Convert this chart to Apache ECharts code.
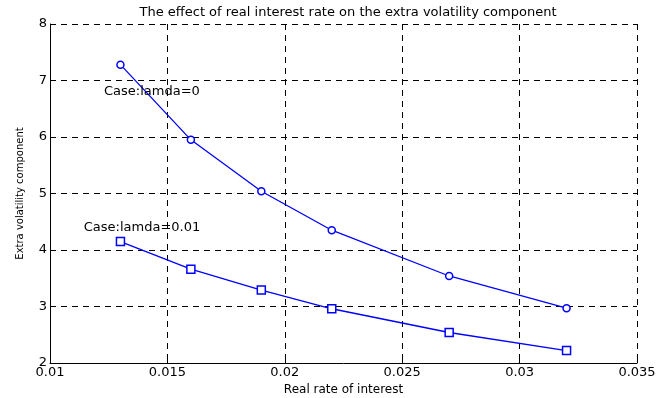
<!DOCTYPE html>
<html>
<head>
<meta charset="utf-8">
<script src="https://cdn.jsdelivr.net/npm/echarts@6/dist/echarts.min.js"></script>
<style>
  html, body { margin: 0; padding: 0; background: #fff; }
  #chart { width: 664px; height: 398px; }
</style>
</head>
<body>
<div id="chart"></div>
<script>
// Real rate of interest (x) and extra volatility component for two cases
const rates = [0.013, 0.016, 0.019, 0.022, 0.027, 0.032];
const volLamda0 = [7.28, 5.95, 5.04, 4.35, 3.54, 2.97];
const volLamda001 = [4.15, 3.66, 3.29, 2.96, 2.54, 2.22];

const xTicks = { min: 0.01, max: 0.035, interval: 0.005 };
const yTicks = { min: 2, max: 8, interval: 1 };

const fontFamily = '"DejaVu Sans", sans-serif';
const blue = '#0000ff';

function pairs(xs, ys) {
  return xs.map((x, i) => [x, ys[i]]);
}

// Text annotation anchored at a data coordinate
function note(coord, text) {
  return {
    symbol: 'circle',
    symbolSize: 1,
    itemStyle: { color: 'rgba(0,0,0,0)' },
    silent: true,
    data: [{ coord: coord, value: text }],
    label: {
      show: true, position: 'inside', formatter: text,
      color: '#000', fontSize: 13, fontFamily: fontFamily
    }
  };
}

const chart = echarts.init(document.getElementById('chart'), null, { renderer: 'canvas' });

const axisCommon = {
  axisLine: { show: true, lineStyle: { color: '#000', width: 1 } },
  axisTick: { show: true, inside: true, length: 5, lineStyle: { color: '#000' } },
  axisLabel: { color: '#000', fontSize: 13, fontFamily: fontFamily },
  splitLine: { show: true, lineStyle: { color: '#000', type: [6, 5], width: 1 } },
  nameTextStyle: { color: '#000', fontSize: 12, fontFamily: fontFamily }
};

chart.setOption({
  backgroundColor: '#fff',
  animation: false,
  title: {
    text: 'The effect of real interest rate on the extra volatility component',
    left: 343,
    top: 1,
    textAlign: 'center',
    textStyle: { color: '#000', fontSize: 13, fontWeight: 'normal', fontFamily: fontFamily }
  },
  grid: { left: 50, right: 27, top: 24, bottom: 35, containLabel: false, outerBoundsMode: 'none' },
  xAxis: Object.assign({}, axisCommon, {
    type: 'value',
    min: xTicks.min, max: xTicks.max, interval: xTicks.interval,
    name: 'Real rate of interest',
    nameLocation: 'middle',
    nameGap: 20,
    axisLabel: Object.assign({}, axisCommon.axisLabel, { margin: 3 })
  }),
  yAxis: Object.assign({}, axisCommon, {
    type: 'value',
    min: yTicks.min, max: yTicks.max, interval: yTicks.interval,
    name: 'Extra volatility component',
    nameLocation: 'middle',
    nameGap: 25,
    nameTextStyle: { color: '#000', fontSize: 10, fontFamily: fontFamily },
    axisLabel: Object.assign({}, axisCommon.axisLabel, { margin: 3 })
  }),
  series: [
    {
      type: 'line',
      data: pairs(rates, volLamda0),
      symbol: 'circle',
      symbolSize: 7,
      showAllSymbol: true,
      lineStyle: { color: blue, width: 1.3 },
      itemStyle: { color: '#fff', borderColor: blue, borderWidth: 1.5 },
      markPoint: note([0.01434, 6.8], 'Case:lamda=0'),
      z: 3
    },
    {
      type: 'line',
      data: pairs(rates, volLamda001),
      symbol: 'rect',
      symbolSize: 8,
      showAllSymbol: true,
      lineStyle: { color: blue, width: 1.3 },
      itemStyle: { color: '#fff', borderColor: blue, borderWidth: 1.5 },
      markPoint: note([0.01392, 4.4], 'Case:lamda=0.01'),
      z: 3
    }
  ]
});
</script>
</body>
</html>
